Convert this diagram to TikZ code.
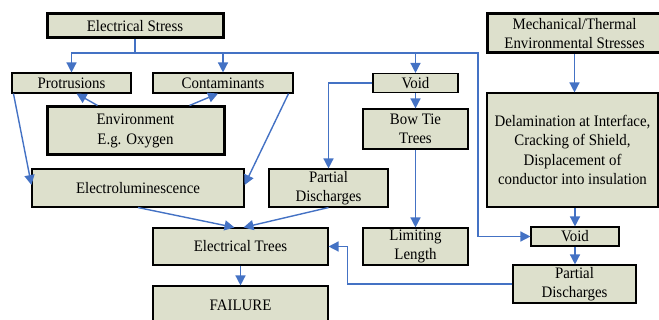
\documentclass[tikz,border=0pt]{standalone}
\usepackage{fontspec}
\setmainfont{Liberation Serif}[FakeStretch=0.93]
\usetikzlibrary{arrows.meta}
\definecolor{boxfill}{RGB}{221,224,204}
\definecolor{linkblue}{RGB}{68,114,196}
\tikzset{
  box/.style={draw=black, fill=boxfill, line width=1.1pt, inner sep=0pt, align=center, font=\fontsize{16}{19.5}\selectfont},
  bigbox/.style={box, line width=3pt},
  link/.style={draw=linkblue, line width=1.4pt, -{Triangle[width=10pt,length=10pt]}}
}
\begin{document}
\begin{tikzpicture}[x=1pt,y=-1pt]
\useasboundingbox (0,0) rectangle (659,320);
\clip (0,0) rectangle (659,320);
\node[bigbox, minimum width=176pt, minimum height=24pt] (stress) at (135,26) {Electrical Stress};
\node[box, minimum width=119pt, minimum height=20pt] (protr) at (71.5,83) {Protrusions};
\node[box, minimum width=140pt, minimum height=20pt] (contam) at (223,83) {Contaminants};
\node[bigbox, minimum width=177pt, minimum height=48pt] (envir) at (135.5,131) {Environment\\E.g. Oxygen};
\node[box, minimum width=85pt, minimum height=19pt] (void) at (415.5,83) {Void};
\node[box, minimum width=105pt, minimum height=40pt] (bowtie) at (415.5,129) {Bow Tie\\Trees};
\node[box, minimum width=212pt, minimum height=38pt] (electro) at (138,188) {Electroluminescence};
\node[box, minimum width=119pt, minimum height=38pt] (pdleft) at (328.5,188) {Partial\\Discharges};
\node[box, minimum width=175pt, minimum height=37pt] (trees) at (240.5,246.5) {Electrical Trees};
\node[box, minimum width=105pt, minimum height=37pt] (limit) at (415.5,246.5) {Limiting\\Length};
\node[box, minimum width=175pt, minimum height=38pt] (failure) at (240.5,305) {FAILURE};
\node[bigbox, minimum width=175pt, minimum height=39pt] (mech) at (574.5,33.5) {Mechanical/Thermal\\Environmental Stresses};
\node[box, minimum width=171pt, minimum height=114pt] (delam) at (572.5,150) {Delamination at Interface,\\Cracking of Shield,\\Displacement of\\conductor into insulation};
\node[box, minimum width=88pt, minimum height=19pt] (void2) at (575,236.5) {Void};
\node[box, minimum width=123pt, minimum height=38pt] (pdright) at (574.5,284) {Partial\\Discharges};
\coordinate (bus) at (0,53);
\coordinate (turn) at (478,53);
\draw[link] (stress.south) |- (bus -| protr.north) -- (protr.north);
\draw[link] (stress.south) |- (bus -| contam.north) -- (contam.north);
\draw[link] (stress.south) |- (bus -| void.north) -- (void.north);
\draw[link] (stress.south) |- (turn) |- (void2.west);
\draw[link] ([xshift=-38pt]envir.north) -- ([xshift=5pt]protr.south);
\draw[link] ([xshift=54pt]envir.north) -- ([xshift=-5pt]contam.south);
\draw[link] ([xshift=2pt]protr.south west) -- ([yshift=3pt]electro.west);
\draw[link] ([xshift=-5pt]contam.south east) -- ([yshift=3pt]electro.east);
\draw[link] (void.west) -| (pdleft.north);
\draw[link] (void.south) -- (bowtie.north);
\draw[link] (bowtie.south) -- (limit.north);
\draw[link] (electro.south) -- ([xshift=-6pt]trees.north);
\draw[link] (pdleft.south) -- ([xshift=3pt]trees.north);
\draw[link] (trees.south) -- (failure.north);
\draw[link] (mech.south) -- (mech.south |- delam.north);
\draw[link] (delam.south -| void2.north) -- (void2.north);
\draw[link] (void2.south) -- (void2.south |- pdright.north);
\draw[link] (pdright.west) -| ([xshift=19pt]trees.east) -- (trees.east);
\end{tikzpicture}
\end{document}
